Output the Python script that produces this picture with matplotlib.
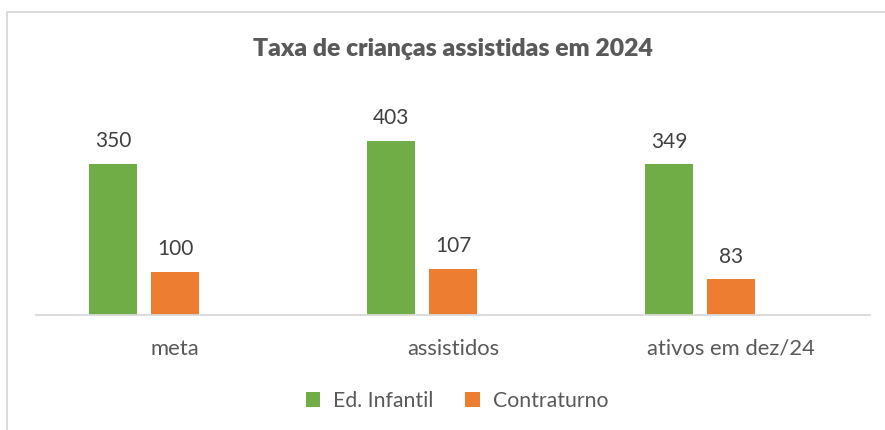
import matplotlib
matplotlib.use("Agg")
import matplotlib.pyplot as plt
from matplotlib.patches import Rectangle
import numpy as np

categories = ["meta", "assistidos", "ativos em dez/24"]
ed_infantil = [350, 403, 349]
contraturno = [100, 107, 83]
series_names = ["Ed. Infantil", "Contraturno"]
title = "Taxa de crianças assistidas em 2024"

GREEN = "#70AD47"
ORANGE = "#ED7D31"
TEXT = "#595959"
LINE = "#D9D9D9"

plt.rcParams['font.family'] = ['Lato', 'DejaVu Sans']

W, H = 885, 430
fig = plt.figure(figsize=(W / 100, H / 100), dpi=100)

# chart border (right and bottom edges fall outside the image)
fig.patches.append(Rectangle((7 / W, -0.2), 1.2, (H - 12) / H + 0.2, transform=fig.transFigure,
                             fill=False, edgecolor=LINE, linewidth=1.3))

left, right, base = 36, 870, 315
ymax = 450
scale = 0.432
top = base - ymax * scale
ax = fig.add_axes([left / W, (H - base) / H, (right - left) / W, (base - top) / H])

x = np.arange(len(categories))
bw = 0.1727
step = 0.223
b1 = ax.bar(x - step, ed_infantil, bw, color=GREEN, label=series_names[0])
b2 = ax.bar(x, contraturno, bw, color=ORANGE, label=series_names[1])
for bars in (b1, b2):
    ax.bar_label(bars, padding=9, fontsize=15, color="#404040")

ax.set_xlim(-0.5, len(categories) - 0.5)
ax.set_ylim(0, ymax)
ax.set_yticks([])
ax.set_xticks(x)
ax.set_xticklabels(categories, fontsize=15.8, color=TEXT)
ax.tick_params(axis='x', length=0, pad=17)
for s in ("top", "right", "left"):
    ax.spines[s].set_visible(False)
ax.spines["bottom"].set_color(LINE)
ax.spines["bottom"].set_linewidth(1.3)
ax.patch.set_alpha(0)

fig.text(453 / W, (H - 49) / H, title, ha="center", va="center", fontsize=17.8,
         fontweight="heavy", color=TEXT)

leg = fig.legend(handles=[b1, b2], loc="center", bbox_to_anchor=(457 / W, (H - 401) / H),
                 ncol=2, frameon=False, fontsize=15.3, handlelength=0.7, handleheight=0.7,
                 handletextpad=0.6, columnspacing=1.5, labelcolor=TEXT)

fig.savefig("out.png", dpi=100)
